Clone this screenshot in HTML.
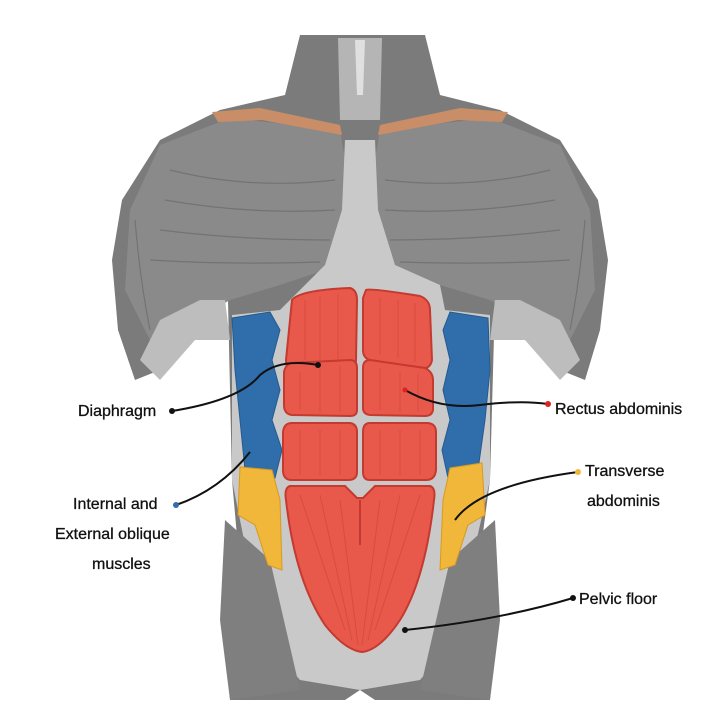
<!DOCTYPE html>
<html><head><style>
body{margin:0;background:#fff;}
svg{display:block}
text{font-family:"Liberation Sans",sans-serif;font-size:16px;fill:#111;stroke:#111;stroke-width:0.3}
</style></head><body>
<svg width="720" height="720" viewBox="0 0 720 720">
<path d="M300 35 L425 35 L440 95 L500 110 L560 140 L598 200 L608 260 L600 330 L585 380 L560 370 L530 330 L495 300 L490 480 L478 570 L495 620 L490 700 L375 700 L360 690 L345 700 L230 700 L225 620 L240 570 L232 480 L228 300 L190 330 L160 370 L135 380 L118 330 L112 260 L122 200 L160 140 L220 110 L285 95 Z" fill="#7b7b7b"/>
<path d="M160 145 L230 118 L340 130 L352 200 L340 265 L280 285 L230 300 L195 320 L150 340 L125 290 L130 210 Z" fill="#8a8a8a"/>
<path d="M560 145 L490 118 L380 130 L368 200 L380 265 L440 285 L490 300 L525 320 L570 340 L595 290 L590 210 Z" fill="#8a8a8a"/>
<g stroke="#6a6a6a" stroke-width="1.2" fill="none" opacity="0.7">
<path d="M170 170 Q250 190 335 180"/><path d="M165 200 Q250 215 335 210"/><path d="M160 230 Q240 240 330 240"/><path d="M150 260 Q230 265 320 262"/>
<path d="M550 170 Q470 190 385 180"/><path d="M555 200 Q470 215 385 210"/><path d="M560 230 Q480 240 390 240"/><path d="M570 260 Q490 265 400 262"/>
<path d="M135 220 Q140 280 150 330"/><path d="M585 220 Q580 280 570 330"/>
<path d="M240 600 L260 690"/><path d="M255 590 L280 690"/><path d="M480 600 L460 690"/><path d="M465 590 L440 690"/>
</g>
<path d="M345 140 L375 140 L378 210 L395 265 L440 285 L445 310 L490 315 L490 480 L470 570 L455 640 L420 680 L360 690 L300 680 L265 640 L250 570 L232 480 L232 315 L280 310 L325 265 L342 210 Z" fill="#c9c9c9"/>
<path d="M338 38 L382 38 L380 120 L340 120 Z" fill="#b5b5b5"/>
<path d="M355 40 L365 40 L363 95 L357 95 Z" fill="#e0e0e0"/>
<path d="M140 360 L160 320 L200 300 L225 300 L230 340 L195 340 L160 380 Z" fill="#bdbdbd"/>
<path d="M580 360 L560 320 L520 300 L495 300 L490 340 L525 340 L560 380 Z" fill="#bdbdbd"/>
<path d="M212 112 L260 108 L340 125 L342 135 L262 120 L218 122 Z" fill="#c98e68"/>
<path d="M508 112 L460 108 L380 125 L378 135 L458 120 L502 122 Z" fill="#c98e68"/>
<path d="M225 520 L270 560 L300 690 L230 700 L220 620 Z" fill="#7f7f7f"/>
<path d="M495 520 L450 560 L420 690 L490 700 L500 620 Z" fill="#7f7f7f"/>
<path d="M232 318 L270 312 L280 330 L272 360 L280 390 L272 420 L282 450 L275 478 L245 470 L240 420 L235 370 Z" fill="#2f6eab" stroke="#245a8e"/>
<path d="M488 318 L450 312 L443 330 L450 360 L443 390 L450 420 L442 450 L448 478 L478 470 L485 420 L490 370 Z" fill="#2f6eab" stroke="#245a8e"/>
<path d="M240 467 L272 470 L280 500 L282 570 L268 565 L255 525 L238 515 Z" fill="#f1b73a" stroke="#d89a20"/>
<path d="M482 463 L450 468 L443 500 L440 570 L455 565 L468 525 L485 515 Z" fill="#f1b73a" stroke="#d89a20"/>
<g fill="#e9594b" stroke="#c43a30" stroke-width="2">
<path d="M292 300 Q300 290 350 288 Q357 290 357 300 L356 360 Q356 368 348 368 L295 370 Q286 370 286 360 Z"/>
<path d="M366 290 Q370 288 420 296 Q430 300 430 310 L432 360 Q430 370 420 368 L370 360 Q363 358 363 350 L363 298 Z"/>
<path d="M290 363 L350 360 Q357 360 357 368 L357 410 Q357 416 350 416 L292 415 Q284 414 284 405 L284 372 Q285 366 290 363 Z"/>
<path d="M370 360 L425 368 Q433 372 433 380 L433 410 Q432 416 425 416 L370 415 Q363 414 363 408 L363 368 Q363 360 370 360 Z"/>
<path d="M292 423 L350 423 Q357 424 357 432 L357 472 Q357 480 348 480 L292 480 Q283 480 283 470 L283 432 Q284 423 292 423 Z"/>
<path d="M370 423 L428 423 Q436 424 436 432 L436 470 Q435 480 426 480 L370 480 Q363 480 363 472 L363 432 Q363 423 370 423 Z"/>
<path d="M290 486 L345 486 L357 498 L363 498 L375 486 L430 486 Q436 488 434 500 Q425 580 400 620 Q380 650 362 652 Q345 650 325 625 Q295 580 286 500 Q284 488 290 486 Z"/>
</g>
<g stroke="#c94438" stroke-width="1" opacity="0.6">
<path d="M305 300 L305 360 M320 296 L320 362 M338 294 L338 362 M380 298 L380 355 M398 300 L398 358 M415 303 L415 362"/>
<path d="M300 372 L300 410 M320 368 L320 412 M340 366 L340 412 M380 368 L380 410 M400 372 L400 412 M418 374 L418 412"/>
<path d="M300 430 L300 475 M320 430 L320 475 M340 430 L340 475 M380 430 L380 475 M400 430 L400 475 M420 430 L420 475"/>
<path d="M300 495 L345 630 M320 495 L352 640 M340 500 L358 645 M420 495 L375 630 M400 495 L368 640 M380 500 L362 645"/>
</g>
<line x1="360" y1="500" x2="360" y2="545" stroke="#c43a30" stroke-width="2"/>
<g fill="none" stroke="#111" stroke-width="2">
<path d="M172 411 Q240 400 260 375 Q280 358 318 365"/>
<path d="M405 390 Q440 410 480 405 Q520 400 548 404"/>
<path d="M176 505 Q220 490 250 452"/>
<path d="M455 520 Q480 485 578 472"/>
<path d="M405 630 Q500 620 573 598"/>
</g>
<circle cx="172" cy="411" r="3" fill="#111"/>
<circle cx="318" cy="365" r="3" fill="#111"/>
<circle cx="405" cy="390" r="2.5" fill="#d22"/>
<circle cx="548" cy="404" r="3" fill="#d22"/>
<circle cx="176" cy="505" r="3" fill="#2f6eab"/>
<circle cx="578" cy="472" r="3" fill="#f1b73a"/>
<circle cx="405" cy="630" r="3" fill="#111"/>
<circle cx="573" cy="598" r="3" fill="#111"/>
<text x="78" y="416">Diaphragm</text>
<text x="555" y="414">Rectus abdominis</text>
<text x="585" y="476">Transverse</text>
<text x="587" y="506">abdominis</text>
<text x="73" y="509">Internal and</text>
<text x="55" y="539">External oblique</text>
<text x="92" y="569">muscles</text>
<text x="579" y="604">Pelvic floor</text>
</svg>
</body></html>
